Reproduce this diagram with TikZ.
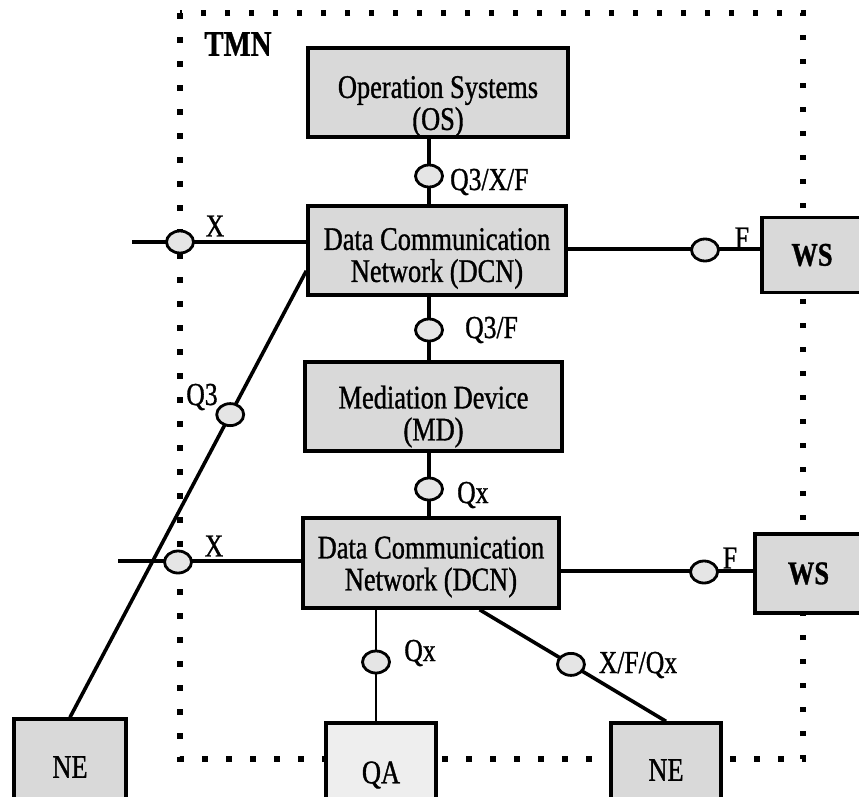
\documentclass[tikz,border=0pt]{standalone}
\usepackage{fontspec}
\setmainfont[FakeStretch=0.8, FakeBold=1]{Liberation Serif}
\usetikzlibrary{shapes.geometric,calc}
\begin{document}
\begin{tikzpicture}[x=1pt,y=-1pt,
  box/.style={draw, line width=3.4pt, fill=gray!30, align=center,
    font=\fontsize{33}{33}\selectfont, inner sep=0pt},
  boxtext/.style={align=center, font=\fontsize{33}{32}\selectfont, inner sep=0pt},
  port/.style={ellipse, draw, line width=2.8pt, fill=gray!20,
    minimum width=27pt, minimum height=22pt, inner sep=0pt},
  link/.style={line width=3.6pt},
  thinlink/.style={line width=2.5pt},
  lab/.style={font=\fontsize{32}{32}\selectfont, inner sep=0pt}]
\useasboundingbox (0,0) rectangle (859,796);
% TMN boundary
\draw[line width=5.5pt, dash pattern=on 5.5pt off 18.5pt] (180,13) rectangle (803,759);
\node[font=\fontsize{36}{38}\selectfont\bfseries, inner sep=0pt] (tmn) at (238,44) {TMN};
% boxes
\node[box, minimum width=260pt, minimum height=89pt] (os) at (438,92.5) {};
\node[boxtext] (ost) at ($(os.center)+(0,14)$) {Operation Systems\\(OS)};
\node[box, minimum width=258pt, minimum height=89pt] (dcn1) at (437,250.5) {};
\node[boxtext] (dcn1t) at ($(dcn1.center)+(0,8)$) {Data Communication\\Network (DCN)};
\node[box, minimum width=257pt, minimum height=89pt] (md) at (433.5,406.5) {};
\node[boxtext] (mdt) at ($(md.center)+(0,10)$) {Mediation Device\\(MD)};
\node[box, minimum width=256pt, minimum height=90pt] (dcn2) at (431,563) {};
\node[boxtext] (dcn2t) at ($(dcn2.center)+(0,4)$) {Data Communication\\Network (DCN)};
\node[box, minimum width=100pt, minimum height=75pt, font=\fontsize{33}{33}\selectfont\bfseries] (ws1) at (812,255) {WS};
\node[box, minimum width=107pt, minimum height=79pt, font=\fontsize{33}{33}\selectfont\bfseries] (ws2) at (808.5,573.5) {WS};
\node[box, minimum width=112pt, minimum height=96pt] (ne1) at (70,767) {NE};
\node[box, fill=gray!13, minimum width=110pt, minimum height=104pt] (qa) at (381,775) {QA};
\node[box, minimum width=110pt, minimum height=94pt] (ne2) at (666,770) {NE};
% anchor coordinates
\coordinate (xa) at (132,242);
\coordinate (xb) at (118,561);
\coordinate (dg) at ($(dcn1.south west)!0.28!(dcn1.north west)$);
\coordinate (xs) at ($(dcn2.south west)!0.6875!(dcn2.south east)$);
\coordinate (vl) at (429,0);
\coordinate (ql) at (376,0);
% links
\draw[link] (vl |- os.south) -- (vl |- dcn1.north);
\draw[link] (vl |- dcn1.south) -- (vl |- md.north);
\draw[link] (vl |- md.south) -- (vl |- dcn2.north);
\draw[link] (xa) -- (xa -| dcn1.west);
\draw[link] (xb) -- (xb -| dcn2.west);
\coordinate (fa) at (0,249);
\coordinate (fb) at (0,571);
\draw[link] (fa -| dcn1.east) -- (fa -| ws1.west);
\draw[link] (fb -| dcn2.east) -- (fb -| ws2.west);
\draw[link] (ne1.north) -- (dg);
\draw[link] (xs) -- (ne2.north);
\draw[thinlink] (ql |- dcn2.south) -- (ql |- qa.north);
% ports
\node[port] (p1) at (429,176) {};
\node[port] (p2) at (429,330) {};
\node[port] (p3) at (429,489) {};
\node[port] (p4) at (180,242) {};
\node[port] (p5) at (705,250) {};
\node[port] (p6) at ($(ne1.north)!0.678!(dg)$) {};
\node[port] (p7) at (178,562) {};
\node[port] (p8) at (704,572) {};
\node[port] (p9) at (376,662) {};
\node[port] (p10) at ($(xs)!0.49!(ne2.north)$) {};
% labels
\node[lab, anchor=west] (l1) at (450,182) {Q3/X/F};
\node[lab, anchor=west] (l2) at (465,330) {Q3/F};
\node[lab, anchor=west] (l3) at (457,495) {Qx};
\node[lab] (l4) at (215,226) {X};
\node[lab] (l5) at (742,238) {F};
\node[lab] (l6) at (202,397) {Q3};
\node[lab] (l7) at (214,546) {X};
\node[lab] (l8) at (730,558) {F};
\node[lab] (l9) at (420,653) {Qx};
\node[lab] (l10) at (638,665) {X/F/Qx};
\end{tikzpicture}
\end{document}
